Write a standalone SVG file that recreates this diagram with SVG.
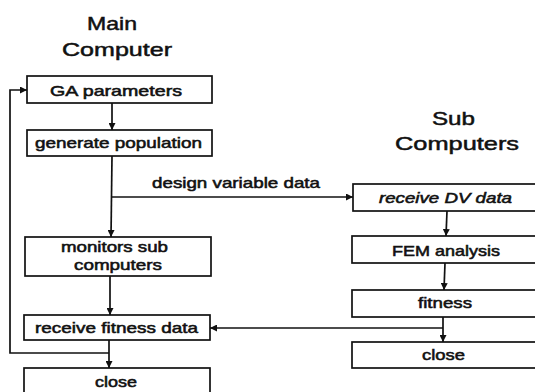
<svg xmlns="http://www.w3.org/2000/svg" width="535" height="392" viewBox="0 0 535 392">
<defs>
<style>
.box{fill:#fff;stroke:#111;stroke-width:1.7}
.ln{fill:none;stroke:#111;stroke-width:1.7}
text{font-family:"Liberation Sans",Arial,sans-serif;fill:#111;stroke:#111;stroke-width:0.55}
.t{font-size:15px}
.h{font-size:19px;stroke-width:0.5}
.i{font-style:italic}
</style>
<marker id="ah" viewBox="0 0 10 10" refX="10" refY="5" markerWidth="7" markerHeight="7" markerUnits="userSpaceOnUse" orient="auto">
<path d="M0,0 L10,5 L0,10 z" fill="#111"/>
</marker>
</defs>
<rect width="535" height="392" fill="#fff"/>
<g id="titles">
<text class="h" x="87" y="30" textLength="50" lengthAdjust="spacingAndGlyphs">Main</text>
<text class="h" x="62" y="56" textLength="110" lengthAdjust="spacingAndGlyphs">Computer</text>
<text class="h" x="432" y="125" textLength="43" lengthAdjust="spacingAndGlyphs">Sub</text>
<text class="h" x="395" y="150" textLength="124" lengthAdjust="spacingAndGlyphs">Computers</text>
</g>
<g id="connectors">
<line class="ln" x1="112" y1="103" x2="112" y2="130" marker-end="url(#ah)"/>
<line class="ln" x1="112" y1="156" x2="111" y2="237" marker-end="url(#ah)"/>
<polyline class="ln" points="112,197 353,197" marker-end="url(#ah)"/>
<line class="ln" x1="110" y1="276" x2="110" y2="315" marker-end="url(#ah)"/>
<line class="ln" x1="109" y1="340" x2="109" y2="368" marker-end="url(#ah)"/>
<polyline class="ln" points="109,353 10,353 10,90 27,90" marker-end="url(#ah)"/>
<line class="ln" x1="447" y1="211" x2="446" y2="236" marker-end="url(#ah)"/>
<line class="ln" x1="445" y1="263" x2="444" y2="290" marker-end="url(#ah)"/>
<line class="ln" x1="443" y1="317" x2="443" y2="342" marker-end="url(#ah)"/>
<polyline class="ln" points="443,328 210,328" marker-end="url(#ah)"/>
<text class="t" x="152" y="188" textLength="168" lengthAdjust="spacingAndGlyphs">design variable data</text>
</g>
<g id="ga-parameters">
<rect class="box" x="27" y="76" width="185" height="27"/>
<text class="t" x="50" y="96" textLength="132" lengthAdjust="spacingAndGlyphs">GA parameters</text>
</g>
<g id="generate-population">
<rect class="box" x="27" y="130" width="185" height="26"/>
<text class="t" x="35" y="148" textLength="167" lengthAdjust="spacingAndGlyphs">generate population</text>
</g>
<g id="monitors">
<rect class="box" x="25" y="237" width="186" height="39"/>
<text class="t" x="61" y="252" textLength="107" lengthAdjust="spacingAndGlyphs">monitors sub</text>
<text class="t" x="74" y="270" textLength="88" lengthAdjust="spacingAndGlyphs">computers</text>
</g>
<g id="receive-fitness">
<rect class="box" x="24" y="315" width="186" height="25"/>
<text class="t" x="35" y="333" textLength="163" lengthAdjust="spacingAndGlyphs">receive fitness data</text>
</g>
<g id="close-main">
<rect class="box" x="24" y="368" width="186" height="30"/>
<text class="t" x="95" y="387" textLength="42" lengthAdjust="spacingAndGlyphs">close</text>
</g>
<g id="receive-dv">
<rect class="box" x="353" y="184" width="190" height="27"/>
<text class="t i" x="379" y="203" textLength="133" lengthAdjust="spacingAndGlyphs">receive DV data</text>
</g>
<g id="fem">
<rect class="box" x="352" y="236" width="190" height="27"/>
<text class="t" x="392" y="256" textLength="108" lengthAdjust="spacingAndGlyphs">FEM analysis</text>
</g>
<g id="fitness">
<rect class="box" x="352" y="290" width="190" height="27"/>
<text class="t" x="418" y="308" textLength="54" lengthAdjust="spacingAndGlyphs">fitness</text>
</g>
<g id="close-sub">
<rect class="box" x="352" y="342" width="190" height="26"/>
<text class="t" x="422" y="360" textLength="43" lengthAdjust="spacingAndGlyphs">close</text>
</g>
</svg>
